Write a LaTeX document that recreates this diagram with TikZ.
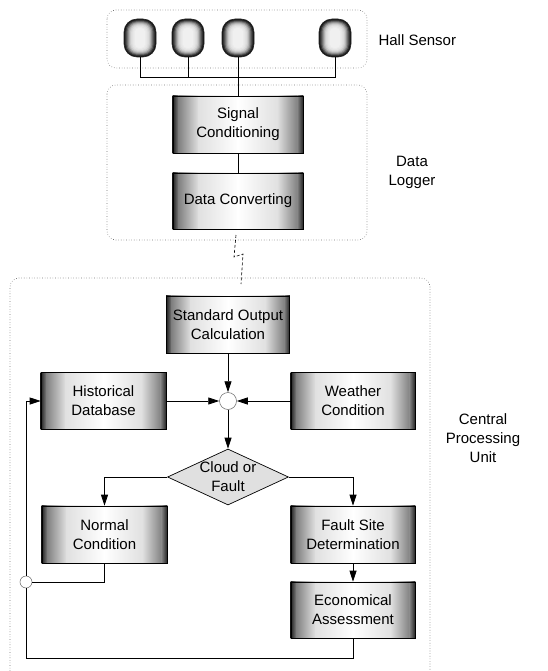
\documentclass[tikz,border=0pt]{standalone}
\usepackage{fontspec}
\setmainfont{Liberation Sans}
\usetikzlibrary{arrows.meta,shapes.geometric,calc}
\pgfdeclarelayer{bg}
\pgfsetlayers{bg,main}
\tikzset{
  txt/.style={font=\fontsize{15}{19}\selectfont, align=center},
  procbox/.style={txt, draw=black, line width=0.7pt, inner sep=0pt},
  sensor/.style={draw=black!85, line width=0.6pt, rounded corners=13pt, minimum width=32pt, minimum height=38pt, inner sep=0pt},
  grp/.style={draw=black!55, dotted, line width=0.6pt, rounded corners=9pt},
  ln/.style={draw=black, line width=0.8pt},
  arr/.style={ln, -{Triangle[length=11pt,width=7pt]}},
  junc/.style={circle, draw=black!60, line width=0.5pt, inner sep=0pt},
  dia/.style={diamond, draw=black, line width=0.7pt, fill=black!12, minimum width=121pt, minimum height=56pt, inner sep=0pt}
}
% one shaded strip of node #1 from fraction #2 to #3, colour #4 to #5
\newcommand\bxseg[5]{%
  \shade[left color=#4, right color=#5] ($(#1.north west)!#2!(#1.north east)$) rectangle ($(#1.south west)!#3!(#1.south east)$);}
\newcommand\boxfill[1]{%
  \begin{pgfonlayer}{bg}
  \bxseg{#1}{0}{0.045}{black!88}{black!50}
  \bxseg{#1}{0.043}{0.2}{black!50}{black!12}
  \bxseg{#1}{0.198}{0.502}{black!12}{white}
  \bxseg{#1}{0.498}{0.802}{white}{black!12}
  \bxseg{#1}{0.8}{0.957}{black!12}{black!50}
  \bxseg{#1}{0.955}{1}{black!50}{black!88}
  \end{pgfonlayer}}
\newcommand\sensorfill[1]{%
  \begin{pgfonlayer}{bg}
  \foreach \k/\g in {0/92,1/80,2/62,3/44,4/30,5/20,6/14,7/10,8/8,9/6}{
    \pgfmathsetmacro\sw{32-2.4*\k}
    \pgfmathsetmacro\sh{38-2.0*\k}
    \pgfmathsetmacro\sr{0.4*\sw}
    \fill[black!\g, rounded corners=\sr pt] ($(#1)+(-\sw/2,-\sh/2)$) rectangle ($(#1)+(\sw/2,\sh/2)$);
  }
  \end{pgfonlayer}}
\begin{document}
\begin{tikzpicture}[x=1pt,y=-1pt]
\useasboundingbox (0,0) rectangle (547,671);
% groups
\draw[grp] (107,10) rectangle (367,68);
\draw[grp] (107,85) rectangle (367,240);
\draw[grp] (10,671) -- (10,278) -- (430,278) -- (430,671);
% hall sensors
\node[sensor] (s1) at (140,38) {};
\node[sensor] (s2) at (188,38) {};
\node[sensor] (s3) at (238,38) {};
\node[sensor] (s4) at (335,38) {};
\sensorfill{s1}\sensorfill{s2}\sensorfill{s3}\sensorfill{s4}
\node[txt, anchor=west] (hall) at (375,40) {Hall Sensor};
% data logger
\node[procbox, minimum width=130pt, minimum height=57pt] (sc) at (238,124.5) {Signal\\Conditioning};
\node[procbox, minimum width=130pt, minimum height=56pt] (dc) at (238,201) {Data Converting};
\boxfill{sc}\boxfill{dc}
\node[txt] (dl) at (412,172) {Data\\Logger};
\coordinate (bus) at (0,77);
\draw[ln] (s1.south) -- (s1.south |- bus) -- (s4.south |- bus) -- (s4.south);
\draw[ln] (s2.south) -- (s2.south |- bus);
\draw[ln] (s3.south) -- (sc.north);
\draw[ln] (sc.south) -- (dc.north);
% lightning link
\coordinate (l1) at (236,235);
\coordinate (l2) at (234,257);
\coordinate (l3) at (243,254);
\coordinate (l4) at (241,284);
\draw[draw=black, line width=0.6pt, densely dashed] (l1) -- (l2) -- (l3) -- (l4);
% central processing unit
\node[procbox, minimum width=123pt, minimum height=57pt] (soc) at (228,324.5) {Standard Output\\Calculation};
\node[procbox, minimum width=125pt, minimum height=57pt] (hist) at (103.5,401) {Historical\\Database};
\node[procbox, minimum width=124pt, minimum height=57pt] (wc) at (353,401) {Weather\\Condition};
\node[junc, minimum size=17pt] (j1) at (228,401) {};
\node[dia] (cf) at (228,477) {};
\node[txt] (cft) at (cf) {Cloud or\\Fault};
\node[procbox, minimum width=125pt, minimum height=57pt] (norm) at (104.5,534.5) {Normal\\Condition};
\node[procbox, minimum width=124pt, minimum height=57pt] (fsd) at (353,534.5) {Fault Site\\Determination};
\node[procbox, minimum width=124pt, minimum height=56pt] (eco) at (353,610) {Economical\\Assessment};
\boxfill{soc}\boxfill{hist}\boxfill{wc}\boxfill{norm}\boxfill{fsd}\boxfill{eco}
\node[junc, minimum size=12pt] (j2) at (26,582) {};
\node[txt] (cpu) at (483,438) {Central\\Processing\\Unit};
\draw[arr] (soc) -- (j1);
\draw[arr] (hist) -- (j1);
\draw[arr] (wc) -- (j1);
\draw[arr] (j1) -- (cf);
\draw[arr] (cf.west) -| (norm.north);
\draw[arr] (cf.east) -| (fsd.north);
\draw[arr] (fsd) -- (eco);
\draw[ln] (norm.south) |- (j2.east);
\coordinate (fb) at (26,658);
\draw[ln] (eco.south) |- (fb) -- (j2.south);
\draw[arr] (j2.north) |- (hist.west);
\end{tikzpicture}
\end{document}
